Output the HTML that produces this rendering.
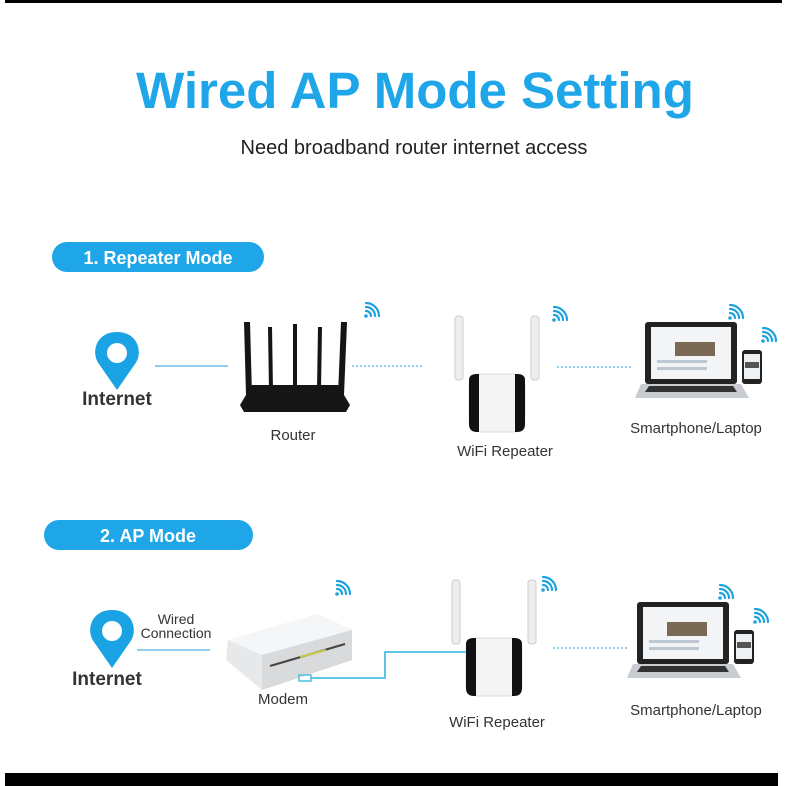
<!DOCTYPE html>
<html><head><meta charset="utf-8"><style>
html,body{margin:0;padding:0;background:#fff;}
svg{display:block}
text{font-family:"Liberation Sans",Arial,sans-serif}
</style></head><body>
<svg width="786" height="786" viewBox="0 0 786 786" xmlns="http://www.w3.org/2000/svg">
<defs>
<g id="wifi" fill="none" stroke="#1fa3e0" stroke-width="2.2" stroke-linecap="round">
 <circle cx="0" cy="0" r="1.8" fill="#1fa3e0" stroke="none"/>
 <path d="M0 -5 A5 5 0 0 1 5 0"/>
 <path d="M0 -9 A9 9 0 0 1 9 0"/>
 <path d="M0 -13 A13 13 0 0 1 13 0"/>
</g>
<g id="pin">
 <path d="M0 0 C-22 0 -26 22 -18 32 L0 58 L18 32 C26 22 22 0 0 0Z" fill="#1aa3e4"/>
 <circle cx="0" cy="21" r="10" fill="#fff"/>
</g>
<g id="repeater">
 <rect x="-42" y="-58" width="8" height="64" rx="3" fill="#eee" stroke="#ccc"/>
 <rect x="34" y="-58" width="8" height="64" rx="3" fill="#eee" stroke="#ccc"/>
 <rect x="-28" y="0" width="56" height="58" rx="12" fill="#f4f4f4" stroke="#ddd"/>
 <path d="M-28 6 Q-28 0 -20 0 L-18 0 L-18 58 L-20 58 Q-28 58 -28 50Z" fill="#111"/>
 <path d="M28 6 Q28 0 20 0 L18 0 L18 58 L20 58 Q28 58 28 50Z" fill="#111"/>
</g>
<g id="laptop">
 <rect x="0" y="0" width="92" height="62" rx="3" fill="#222"/>
 <rect x="6" y="5" width="80" height="52" fill="#f2f4f6"/>
 <rect x="30" y="20" width="40" height="14" fill="#7a6a55"/>
 <rect x="12" y="38" width="50" height="3" fill="#bcc7d2"/>
 <rect x="12" y="45" width="50" height="3" fill="#bcc7d2"/>
 <path d="M-4 62 L96 62 L104 76 L-10 76Z" fill="#c9cdd1"/>
 <path d="M4 64 L88 64 L92 70 L0 70Z" fill="#333"/>
</g>
<g id="phone">
 <rect x="0" y="0" width="20" height="34" rx="3" fill="#222"/>
 <rect x="2" y="4" width="16" height="25" fill="#eef1f4"/>
 <rect x="3" y="12" width="14" height="6" fill="#555"/>
</g>
</defs>
<rect x="5" y="0" width="777" height="3" fill="#000"/>
<rect x="5" y="773" width="773" height="13" fill="#000"/>

<text x="415" y="108" text-anchor="middle" font-size="51" font-weight="bold" fill="#1ea6e8">Wired AP Mode Setting</text>
<text x="414" y="154" text-anchor="middle" font-size="20" fill="#222">Need broadband router internet access</text>

<rect x="52" y="242" width="212" height="30" rx="15" fill="#1ea6e8"/>
<text x="158" y="264" text-anchor="middle" font-size="18" font-weight="bold" fill="#fff">1. Repeater Mode</text>
<rect x="44" y="520" width="209" height="30" rx="15" fill="#1ea6e8"/>
<text x="148" y="542" text-anchor="middle" font-size="18" font-weight="bold" fill="#fff">2. AP Mode</text>

<!-- Row 1 -->
<use href="#pin" x="117" y="332"/>
<text x="117" y="405" text-anchor="middle" font-size="19" font-weight="bold" fill="#333">Internet</text>
<line x1="155" y1="366" x2="228" y2="366" stroke="#8fd0ee" stroke-width="2"/>
<g fill="#151515">
 <path d="M244 322 L250 322 L252 395 L246 395Z"/>
 <path d="M268 327 L272 327 L273 390 L269 390Z"/>
 <path d="M293 324 L297 324 L297 390 L293 390Z"/>
 <path d="M318 327 L322 327 L321 390 L317 390Z"/>
 <path d="M341 322 L347 322 L344 395 L338 395Z"/>
 <path d="M252 385 L338 385 L350 405 L346 412 L244 412 L240 405Z"/>
</g>
<text x="293" y="440" text-anchor="middle" font-size="15" fill="#333">Router</text>
<use href="#wifi" x="366" y="316"/>
<line x1="352" y1="366" x2="422" y2="366" stroke="#8fd0ee" stroke-width="2" stroke-dasharray="2 2"/>
<use href="#repeater" x="497" y="374"/>
<text x="505" y="456" text-anchor="middle" font-size="15" fill="#333">WiFi Repeater</text>
<use href="#wifi" x="554" y="320"/>
<line x1="557" y1="367" x2="632" y2="367" stroke="#8fd0ee" stroke-width="2" stroke-dasharray="2 2"/>
<use href="#laptop" x="645" y="322"/>
<use href="#phone" x="742" y="350"/>
<use href="#wifi" x="730" y="318"/>
<use href="#wifi" x="763" y="341"/>
<text x="696" y="433" text-anchor="middle" font-size="15" fill="#333">Smartphone/Laptop</text>

<!-- Row 2 -->
<use href="#pin" x="112" y="610"/>
<text x="107" y="685" text-anchor="middle" font-size="19" font-weight="bold" fill="#333">Internet</text>
<text x="176" y="624" text-anchor="middle" font-size="14" fill="#333">Wired</text>
<text x="176" y="638" text-anchor="middle" font-size="14" fill="#333">Connection</text>
<line x1="137" y1="650" x2="210" y2="650" stroke="#8fd0ee" stroke-width="2"/>
<path d="M228 640 L318 614 L352 630 L352 660 L262 690 L226 660Z" fill="#e6e8ea"/>
<path d="M228 640 L318 614 L352 630 L262 655Z" fill="#f5f6f7"/>
<path d="M262 655 L352 630 L352 660 L262 690Z" fill="#d8dadc"/>
<path d="M270 666 L345 644" stroke="#444" stroke-width="2"/>
<path d="M300 657 L326 650" stroke="#c9c94a" stroke-width="2"/>
<text x="283" y="704" text-anchor="middle" font-size="15" fill="#333">Modem</text>
<use href="#wifi" x="337" y="594"/>
<rect x="299" y="675" width="12" height="6" fill="none" stroke="#4bbfe0" stroke-width="1.5"/>
<path d="M311 678 L385 678 L385 652 L470 652" fill="none" stroke="#4bbfe0" stroke-width="1.8"/>
<use href="#repeater" x="494" y="638"/>
<text x="497" y="727" text-anchor="middle" font-size="15" fill="#333">WiFi Repeater</text>
<use href="#wifi" x="543" y="590"/>
<line x1="553" y1="648" x2="628" y2="648" stroke="#8fd0ee" stroke-width="2" stroke-dasharray="2 2"/>
<use href="#laptop" x="637" y="602"/>
<use href="#phone" x="734" y="630"/>
<use href="#wifi" x="720" y="598"/>
<use href="#wifi" x="755" y="622"/>
<text x="696" y="715" text-anchor="middle" font-size="15" fill="#333">Smartphone/Laptop</text>
</svg>
</body></html>
